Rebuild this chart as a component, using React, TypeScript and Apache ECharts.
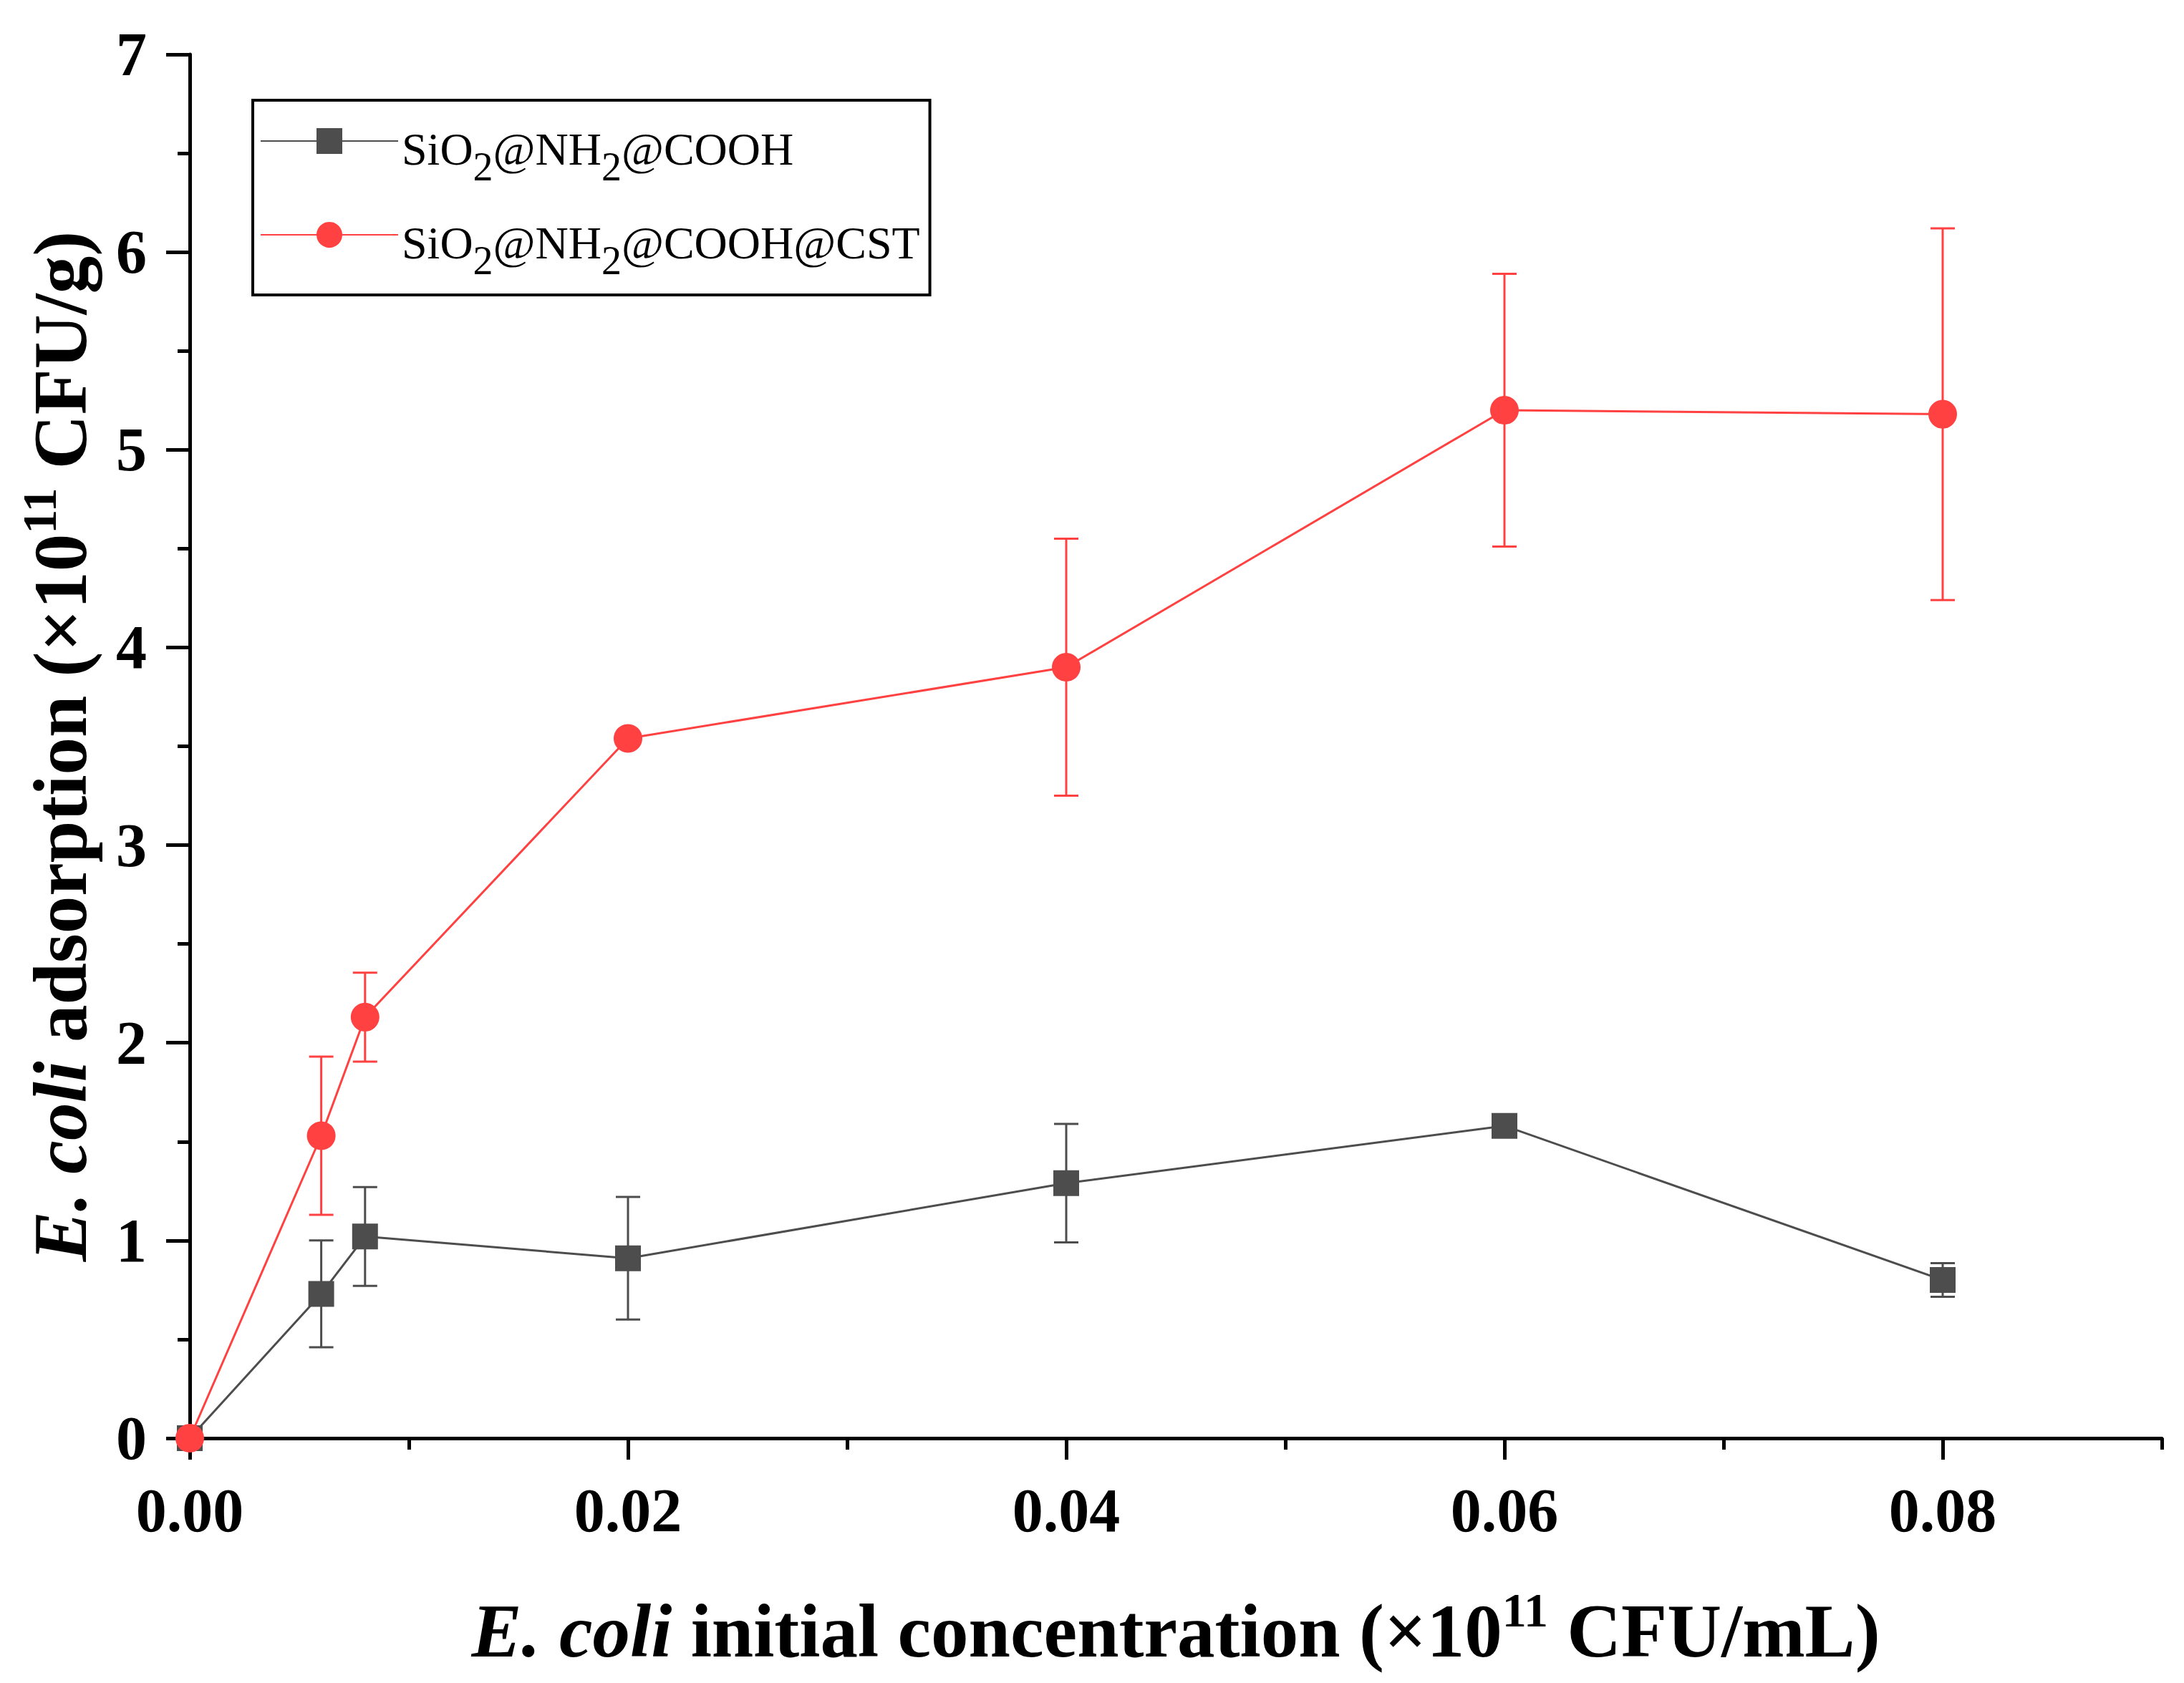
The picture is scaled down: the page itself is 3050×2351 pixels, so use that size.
import React, { useEffect, useRef } from 'react';
import * as echarts from 'echarts';

const concentrations = [0, 0.006, 0.008, 0.02, 0.04, 0.06, 0.08];
const coohValues = [0, 0.73, 1.02, 0.91, 1.29, 1.58, 0.8];
const coohErrors = [0, 0.27, 0.25, 0.31, 0.3, 0, 0.085];
const cstValues = [0, 1.53, 2.13, 3.54, 3.9, 5.2, 5.18];
const cstErrors = [0, 0.4, 0.225, 0, 0.65, 0.69, 0.94];
const seriesNames = ['SiO2@NH2@COOH', 'SiO2@NH2@COOH@CST'];
const xLabelValues = [0, 0.02, 0.04, 0.06, 0.08];

const FONT = '"Liberation Serif", "Times New Roman", serif';
const GRAY = '#4d4d4d';
const RED = '#ff4141';

const legendLabels: Record<string, string> = {
  'SiO2@NH2@COOH': '{n|SiO}{s|2}{n|@NH}{s|2}{n|@COOH}',
  'SiO2@NH2@COOH@CST': '{n|SiO}{s|2}{n|@NH}{s|2}{n|@COOH@CST}',
};

// main tokens sit at the bottom of a taller line, the exponent at its top
const titleRich = {
  i: { fontFamily: FONT, fontSize: 105, fontWeight: 'bold', fontStyle: 'italic', lineHeight: 105, verticalAlign: 'bottom', color: '#000' },
  b: { fontFamily: FONT, fontSize: 105, fontWeight: 'bold', lineHeight: 105, verticalAlign: 'bottom', color: '#000' },
  sup: { fontFamily: FONT, fontSize: 68, fontWeight: 'bold', verticalAlign: 'top', lineHeight: 116, color: '#000' },
};

function errorSeries(values: number[], errors: number[], color: string) {
  const data = concentrations
    .map((x, i) => [x, values[i] - errors[i], values[i] + errors[i]])
    .filter((_, i) => errors[i] > 0);
  return {
    type: 'custom',
    z: 1,
    silent: true,
    encode: { x: 0, y: [1, 2] },
    data,
    renderItem: (_params: any, api: any) => {
      const x = api.value(0);
      const lo = api.coord([x, api.value(1)]);
      const hi = api.coord([x, api.value(2)]);
      const half = 17;
      const style = { stroke: color, lineWidth: 3 };
      return {
        type: 'group',
        children: [
          { type: 'line', shape: { x1: lo[0], y1: lo[1], x2: hi[0], y2: hi[1] }, style },
          { type: 'line', shape: { x1: lo[0] - half, y1: lo[1], x2: lo[0] + half, y2: lo[1] }, style },
          { type: 'line', shape: { x1: hi[0] - half, y1: hi[1], x2: hi[0] + half, y2: hi[1] }, style },
        ],
      };
    },
  };
}

export default function App() {
  const ref = useRef<HTMLDivElement>(null);

  useEffect(() => {
    document.body.style.margin = '0';
    document.body.style.overflow = 'hidden';
    if (!ref.current) return;
    const chart = echarts.init(ref.current, undefined, { renderer: 'svg' });

    const axisLine = { show: true, lineStyle: { color: '#000', width: 5 } };
    const tickLabel = { color: '#000', fontFamily: FONT, fontSize: 86, fontWeight: 'bold' as const };

    chart.setOption({
      animation: false,
      backgroundColor: '#fff',
      grid: { left: 265, right: 31, top: 76, bottom: 342 },
      legend: {
        data: seriesNames,
        orient: 'vertical',
        left: 353,
        top: 140,
        padding: [36, 14, 20, 10],
        itemGap: 46,
        itemWidth: 192,
        itemHeight: 45,
        borderColor: '#000',
        borderWidth: 4,
        selectedMode: false,
        formatter: (name: string) => legendLabels[name] ?? name,
        textStyle: {
          padding: [22, 0, 0, 0],
          rich: {
            n: { fontFamily: FONT, fontSize: 64, lineHeight: 64, verticalAlign: 'top', color: '#000' },
            s: { fontFamily: FONT, fontSize: 56, lineHeight: 64, verticalAlign: 'top', padding: [29, 0, 0, 0], color: '#000' },
          },
        },
      },
      xAxis: [
        {
          type: 'value',
          position: 'bottom',
          min: 0,
          max: 0.09,
          interval: 0.02,
          axisLine,
          axisTick: { show: true, length: 30, customValues: xLabelValues, lineStyle: { color: '#000', width: 5 } },
          axisLabel: {
            ...tickLabel,
            margin: 58,
            customValues: xLabelValues,
            formatter: (v: number) => v.toFixed(2),
          },
          splitLine: { show: false },
          name: '{i|E. coli}{b| initial concentration (×10}{sup|11}{b| CFU/mL)}',
          nameLocation: 'middle',
          nameGap: 206,
          nameTextStyle: { fontFamily: FONT, fontSize: 105, fontWeight: 'bold', color: '#000', rich: titleRich },
        },
        {
          type: 'value',
          position: 'bottom',
          min: 0,
          max: 0.09,
          interval: 0.01,
          axisLine: { show: false },
          axisTick: { show: true, length: 16, lineStyle: { color: '#000', width: 5 } },
          axisLabel: { show: false },
          splitLine: { show: false },
        },
      ],
      yAxis: {
        type: 'value',
        min: 0,
        max: 7,
        interval: 1,
        axisLine,
        axisTick: { show: true, length: 33, lineStyle: { color: '#000', width: 5 } },
        minorTick: { show: true, splitNumber: 2, length: 17, lineStyle: { color: '#000', width: 5 } },
        axisLabel: { ...tickLabel, margin: 60 },
        splitLine: { show: false },
        name: '{i|E. coli}{b| adsorption (×10}{sup|11}{b| CFU/g)}',
        nameLocation: 'middle',
        nameRotate: 90,
        nameGap: 128,
        nameTextStyle: { fontFamily: FONT, fontSize: 105, fontWeight: 'bold', color: '#000', rich: titleRich },
      },
      series: [
        errorSeries(coohValues, coohErrors, GRAY),
        errorSeries(cstValues, cstErrors, RED),
        {
          name: seriesNames[0],
          type: 'line',
          data: concentrations.map((x, i) => [x, coohValues[i]]),
          symbol: 'rect',
          symbolSize: 36,
          lineStyle: { color: GRAY, width: 3 },
          itemStyle: { color: GRAY },
        },
        {
          name: seriesNames[1],
          type: 'line',
          data: concentrations.map((x, i) => [x, cstValues[i]]),
          symbol: 'circle',
          symbolSize: 40,
          lineStyle: { color: RED, width: 3 },
          itemStyle: { color: RED },
        },
      ],
    });

    return () => chart.dispose();
  }, []);

  return <div ref={ref} style={{ width: 3050, height: 2351 }} />;
}
